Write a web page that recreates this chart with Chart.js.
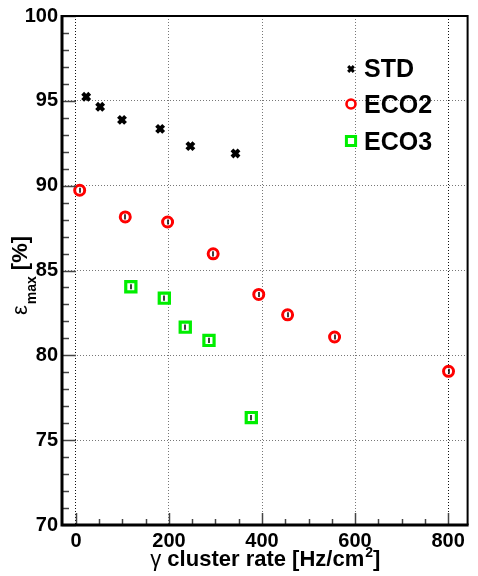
<!DOCTYPE html>
<html><head><meta charset="utf-8">
<script src="https://cdn.jsdelivr.net/npm/chart.js@4.4.1/dist/chart.umd.min.js"></script>
<style>html,body{margin:0;padding:0;background:#fff;}#wrap{width:478px;height:576px;position:relative;}</style>
</head><body><div id="wrap"><canvas id="c" width="478" height="576"></canvas></div>
<script>
// ---- data ----
const seriesNames = ['STD', 'ECO2', 'ECO3'];
const xSTD = [22, 52, 99, 181, 246, 343];
const ySTD = [95.24, 94.65, 93.88, 93.35, 92.33, 91.90];
const eSTD = [0.10, 0.10, 0.10, 0.10, 0.10, 0.10];
const xECO2 = [8, 106, 197, 295, 393, 455, 556, 801];
const yECO2 = [89.73, 88.16, 87.86, 85.98, 83.59, 82.39, 81.08, 79.06];
const eECO2 = [0.15, 0.15, 0.15, 0.15, 0.15, 0.15, 0.15, 0.15];
const xECO3 = [118, 190, 235, 286, 377];
const yECO3 = [84.04, 83.37, 81.66, 80.88, 76.33];
const eECO3 = [0.15, 0.15, 0.15, 0.15, 0.15];
const xTickLabels = [0, 200, 400, 600, 800];
const yTickLabels = [70, 75, 80, 85, 90, 95, 100];
const xTitleGreek = 'γ';
const xTitleMain = ' cluster rate [Hz/cm';
const xTitleSup = '2';
const xTitleEnd = ']';
const yTitleGreek = 'ε';
const yTitleSub = 'max';
const yTitleEnd = ' [%]';

const FONT = '"Liberation Sans", Arial, Helvetica, sans-serif';
const toPts = (xs, ys) => xs.map((x, i) => ({x: x, y: ys[i]}));
const errs = [eSTD, eECO2, eECO3];

const styles = [
  {pointStyle: 'crossRot', radius: 5, borderWidth: 4, borderColor: '#000', backgroundColor: '#000'},
  {pointStyle: 'circle', radius: 5, borderWidth: 3, borderColor: '#ff0000', backgroundColor: 'rgba(0,0,0,0)'},
  {pointStyle: 'rect', radius: 7.2, borderWidth: 3.2, borderColor: '#00ee00', backgroundColor: 'rgba(0,0,0,0)'}
];
const legendStyles = [
  {pointStyle: 'crossRot', radius: 4, borderWidth: 3, color: '#000', fill: '#000'},
  {pointStyle: 'circle', radius: 4.5, borderWidth: 2.6, color: '#ff0000', fill: null},
  {pointStyle: 'rect', radius: 6.5, borderWidth: 3, color: '#00ee00', fill: null}
];

const decor = {
  id: 'decor',
  afterDatasetsDraw(chart) {
    const ctx = chart.ctx;
    const xs = chart.scales.x, ys = chart.scales.y;
    const a = chart.chartArea;
    ctx.save();
    // error bars
    ctx.strokeStyle = '#000';
    ctx.lineWidth = 1.5;
    chart.data.datasets.forEach((ds, di) => {
      ds.data.forEach((p, i) => {
        const e = errs[di][i];
        const px = Math.round(xs.getPixelForValue(p.x));
        ctx.beginPath();
        ctx.moveTo(px, ys.getPixelForValue(p.y - e));
        ctx.lineTo(px, ys.getPixelForValue(p.y + e));
        ctx.stroke();
      });
    });
    // minor / major ticks (inward)
    ctx.strokeStyle = '#444';
    ctx.lineWidth = 1.5;
    for (let v = 70; v <= 100; v += 1) {
      const py = Math.round(ys.getPixelForValue(v)) + 0.5;
      const len = (v % 5 === 0) ? 14 : 7;
      ctx.beginPath(); ctx.moveTo(a.left, py); ctx.lineTo(a.left + len, py); ctx.stroke();
    }
    for (let v = 0; v <= xs.max; v += 50) {
      const px = Math.round(xs.getPixelForValue(v)) + 0.5;
      const len = (v % 200 === 0) ? 12 : 6;
      ctx.beginPath(); ctx.moveTo(px, a.bottom); ctx.lineTo(px, a.bottom - len); ctx.stroke();
    }
    // frame
    ctx.strokeStyle = '#000';
    ctx.lineWidth = 2;
    ctx.beginPath(); ctx.moveTo(a.left, a.top); ctx.lineTo(a.right, a.top); ctx.lineTo(a.right, a.bottom); ctx.stroke();
    ctx.lineWidth = 3;
    ctx.beginPath(); ctx.moveTo(a.left, a.top - 1); ctx.lineTo(a.left, a.bottom); ctx.lineTo(a.right + 1, a.bottom); ctx.stroke();

    // legend
    const legY = [69, 104, 141];
    const legBase = [77, 113, 150];
    ctx.textAlign = 'left';
    ctx.textBaseline = 'alphabetic';
    chart.data.datasets.forEach((ds, di) => {
      const ls = legendStyles[di];
      ctx.save();
      ctx.strokeStyle = ls.color;
      ctx.lineWidth = ls.borderWidth;
      ctx.fillStyle = ls.fill || 'rgba(0,0,0,0)';
      ctx.beginPath();
      Chart.helpers.drawPoint(ctx, {pointStyle: ls.pointStyle, radius: ls.radius, rotation: 0, borderWidth: ls.borderWidth}, 351, legY[di]);
      ctx.restore();
      ctx.fillStyle = '#000';
      ctx.font = 'bold 25px ' + FONT;
      ctx.fillText(ds.label, 364, legBase[di]);
    });

    // x title
    ctx.fillStyle = '#000';
    const cx = (a.left + a.right) / 2;
    const fG = '22px ' + FONT, fM = 'bold 22px ' + FONT, fS = 'bold 14px ' + FONT;
    ctx.font = fG; const wG = ctx.measureText(xTitleGreek).width;
    ctx.font = fM; const wM = ctx.measureText(xTitleMain).width; const wE = ctx.measureText(xTitleEnd).width;
    ctx.font = fS; const wS = ctx.measureText(xTitleSup).width;
    let x0 = cx - (wG + wM + wS + wE) / 2;
    const by = 566;
    ctx.font = fG; ctx.fillText(xTitleGreek, x0, by); x0 += wG;
    ctx.font = fM; ctx.fillText(xTitleMain, x0, by); x0 += wM;
    ctx.font = fS; ctx.fillText(xTitleSup, x0 + 1, by - 9); x0 += wS + 1;
    ctx.font = fM; ctx.fillText(xTitleEnd, x0, by);

    // y title (rotated)
    ctx.save();
    ctx.translate(27, 276);
    ctx.rotate(-Math.PI / 2);
    const yG = '22px ' + FONT, yS = 'bold 14px ' + FONT, yE = 'bold 22px ' + FONT;
    ctx.font = yG; const vG = ctx.measureText(yTitleGreek).width;
    ctx.font = yS; const vS = ctx.measureText(yTitleSub).width;
    ctx.font = yE; const vE = ctx.measureText(yTitleEnd).width;
    let u = -(vG + vS + vE) / 2;
    ctx.font = yG; ctx.fillText(yTitleGreek, u, 0); u += vG + 1;
    ctx.font = yS; ctx.fillText(yTitleSub, u, 9); u += vS;
    ctx.font = yE; ctx.fillText(yTitleEnd, u, 0);
    ctx.restore();

    ctx.restore();
  }
};

const datasets = [
  Object.assign({label: seriesNames[0], data: toPts(xSTD, ySTD)}, styles[0]),
  Object.assign({label: seriesNames[1], data: toPts(xECO2, yECO2)}, styles[1]),
  Object.assign({label: seriesNames[2], data: toPts(xECO3, yECO3)}, styles[2])
];

new Chart(document.getElementById('c'), {
  type: 'scatter',
  data: {datasets: datasets},
  options: {
    responsive: false,
    animation: false,
    events: [],
    layout: {padding: {top: 15, right: 10, left: 0, bottom: 0}},
    plugins: {legend: {display: false}, tooltip: {enabled: false}},
    scales: {
      x: {
        type: 'linear', min: -30, max: 842,
        afterBuildTicks: s => { s.ticks = xTickLabels.map(v => ({value: v})); },
        afterFit: s => { s.height = 51; },
        grid: {drawTicks: false, lineWidth: 1,
          color: c => (c.tick && (c.tick.value === 0 || c.tick.value === 800)) ? '#111' : '#777'},
        border: {display: false, dash: [1, 2]},
        ticks: {font: {family: FONT, size: 20, weight: 'bold'}, color: '#000', padding: 4, maxRotation: 0,
          callback: v => String(v)}
      },
      y: {
        type: 'linear', min: 70, max: 100,
        afterBuildTicks: s => { s.ticks = yTickLabels.map(v => ({value: v})); },
        afterFit: s => { s.width = 62; },
        grid: {drawTicks: false, lineWidth: 1, color: '#777'},
        border: {display: false, dash: [1, 2]},
        ticks: {font: {family: FONT, size: 20, weight: 'bold'}, color: '#000', padding: 4,
          callback: v => String(v)}
      }
    }
  },
  plugins: [decor]
});
</script></body></html>
